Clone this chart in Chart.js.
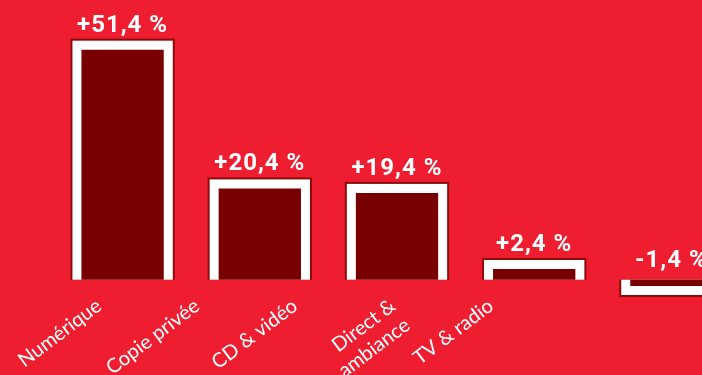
<!DOCTYPE html>
<html lang="fr">
<head>
<meta charset="utf-8">
<title>Évolution des droits perçus</title>
<script src="https://cdn.jsdelivr.net/npm/chart.js@4.4.1/dist/chart.umd.min.js"></script>
<style>
    html, body {
        margin: 0;
        padding: 0;
        background: #ee1d30;
        overflow: hidden;
    }
    #wrap {
        position: relative;
        width: 740px;
        height: 375px;
    }
</style>
</head>
<body>
<div id="wrap">
    <canvas id="growth-chart"></canvas>
</div>
<script>
const CATEGORIES = ['Numérique', 'Copie privée', 'CD & vidéo', ['Direct &', 'ambiance'], 'TV & radio'];
const GROWTH = [51.4, 20.4, 19.4, 2.4, -1.4];

// label row is laid out on its own grid, two trailing empty slots
const LABEL_SLOTS = [...CATEGORIES, '', ''];

const BG_RED = '#ee1d30';
const FILL_RED = '#780000';
const EDGE_RED = '#8e0b0b';

const FRAME = 11;   // white frame + dark edge, drawn outside the bar
const EDGE = 2;

function formatGrowth(v) {
    return (v > 0 ? '+' : '') + v.toFixed(1).replace('.', ',') + ' %';
}

// white frame around each bar, open on the zero side
const framePlugin = {
    id: 'barFrame',
    beforeDatasetsDraw(chart) {
        const ctx = chart.ctx;
        const meta = chart.getDatasetMeta(0);
        ctx.save();
        meta.data.forEach((el) => {
            const { x, y, base, width } = el.getProps(['x', 'y', 'base', 'width'], true);
            const left = x - width / 2;
            const up = y <= base;
            const top = up ? y - FRAME : base;
            const bottom = up ? base : y + FRAME;
            ctx.fillStyle = EDGE_RED;
            ctx.fillRect(left - FRAME, top, width + FRAME * 2, bottom - top);
            const inner = FRAME - EDGE;
            ctx.fillStyle = '#ffffff';
            if (up) {
                ctx.fillRect(left - inner, y - inner, width + inner * 2, base - y + inner);
            } else {
                ctx.fillRect(left - inner, base, width + inner * 2, y - base + inner);
            }
        });
        ctx.restore();
    },
    afterDatasetsDraw(chart) {
        const ctx = chart.ctx;
        const meta = chart.getDatasetMeta(0);
        ctx.save();
        ctx.font = 'bold 24px Roboto';
        ctx.letterSpacing = '1px';
        ctx.fillStyle = '#ffffff';
        ctx.textAlign = 'center';
        ctx.textBaseline = 'alphabetic';
        meta.data.forEach((el, i) => {
            const v = GROWTH[i];
            const { x, y, base } = el.getProps(['x', 'y', 'base'], true);
            const anchor = v >= 0 ? y - FRAME - 7 : base - 13;
            ctx.fillText(formatGrowth(v), x, anchor);
        });
        ctx.restore();
    }
};

const ctx = document.getElementById('growth-chart').getContext('2d');

new Chart(ctx, {
    type: 'bar',
    data: {
        labels: CATEGORIES,
        datasets: [{
            data: GROWTH,
            backgroundColor: FILL_RED,
            borderWidth: 0,
            barPercentage: 0.6,
            categoryPercentage: 1,
            clip: false
        }]
    },
    plugins: [framePlugin],
    options: {
        responsive: true,
        maintainAspectRatio: false,
        animation: false,
        layout: {
            padding: { left: 54, right: 0, top: 0, bottom: 0 }
        },
        plugins: {
            legend: { display: false },
            tooltip: { enabled: false }
        },
        scales: {
            x: {
                display: false
            },
            xLabels: {
                type: 'category',
                labels: LABEL_SLOTS,
                position: 'bottom',
                display: true,
                grid: { display: false },
                border: { display: false },
                afterFit: (scale) => { scale.height = 89; },
                ticks: {
                    autoSkip: false,
                    minRotation: 37,
                    maxRotation: 37,
                    padding: 0,
                    labelOffset: -4,
                    color: '#ffffff',
                    font: { family: 'Lato', size: 20 }
                }
            },
            y: {
                display: false,
                min: -1.4,
                max: 62.5
            }
        }
    }
});
</script>
</body>
</html>
